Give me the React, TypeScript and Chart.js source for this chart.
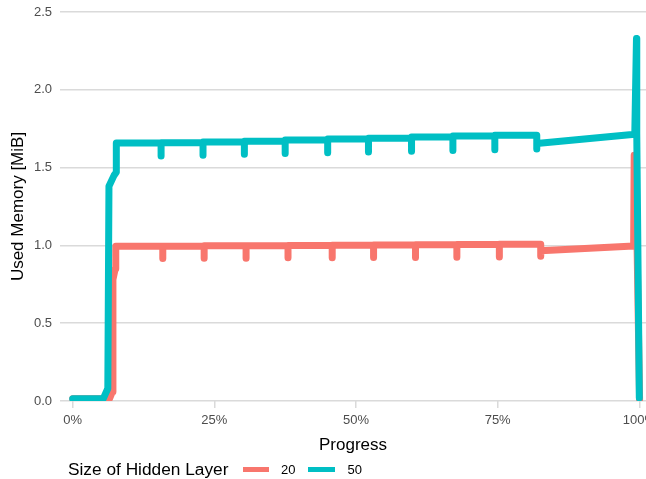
import React, { useEffect, useRef } from "react";
import { Chart, registerables } from "chart.js";

Chart.register(...registerables);

// Progress (%) and used memory (MiB) for hidden layer size 20
const redX = [0, 6.5, 7.0, 7.1, 7.5, 7.6,
  15.9, 15.9, 15.9, 23.2, 23.2, 23.2, 30.6, 30.6, 30.6, 38.0, 38.0, 38.0,
  45.8, 45.8, 45.8, 53.1, 53.1, 53.1, 60.5, 60.5, 60.5, 67.8, 67.8, 67.8,
  75.3, 75.3, 75.3, 82.6, 82.6, 82.6, 99.0, 99.1, 99.6, 100.05];
const redY = [0.015, 0.015, 0.06, 0.78, 0.85, 0.994,
  0.994, 0.916, 0.995, 0.995, 0.917, 0.997, 0.997, 0.918, 0.998, 0.998, 0.92, 1.0,
  1.0, 0.921, 1.001, 1.001, 0.922, 1.003, 1.003, 0.923, 1.004, 1.004, 0.924, 1.005,
  1.005, 0.925, 1.007, 1.007, 0.93, 0.965, 0.996, 1.58, 1.0, 0.01];

// Progress (%) and used memory (MiB) for hidden layer size 50
const tealX = [0, 5.4, 6.2, 6.4, 7.3, 7.7, 7.7,
  15.6, 15.6, 15.6, 23.0, 23.0, 23.0, 30.3, 30.3, 30.3, 37.5, 37.5, 37.5,
  45.0, 45.0, 45.0, 52.2, 52.2, 52.2, 59.8, 59.8, 59.8, 67.1, 67.1, 67.1,
  74.5, 74.5, 74.5, 81.9, 81.9, 81.9, 99.2, 99.5, 99.55, 100.0];
const tealY = [0.015, 0.015, 0.08, 1.38, 1.45, 1.47, 1.658,
  1.658, 1.575, 1.66, 1.66, 1.58, 1.665, 1.665, 1.585, 1.67, 1.67, 1.59, 1.677,
  1.677, 1.595, 1.684, 1.684, 1.60, 1.688, 1.688, 1.605, 1.697, 1.697, 1.61, 1.703,
  1.703, 1.615, 1.708, 1.708, 1.62, 1.655, 1.715, 2.33, 1.72, 0.02];

const seriesNames = ["20", "50"];
const seriesColors = ["#F8766D", "#00BFC4"];
const xTickValues = [0, 25, 50, 75, 100];
const yTickValues = [0, 0.5, 1.0, 1.5, 2.0, 2.5];

const FONT = "'Liberation Sans', Arial, Helvetica, sans-serif";
const GRID = "#DADADA";

function zip(xs: number[], ys: number[]) {
  return xs.map((x, i) => ({ x, y: ys[i] }));
}

export default function App() {
  const ref = useRef<HTMLCanvasElement | null>(null);

  useEffect(() => {
    if (!ref.current) return;
    const lineStyle = {
      borderWidth: 7,
      borderCapStyle: "round",
      borderJoinStyle: "round",
      pointRadius: 0,
      tension: 0,
    };
    const chart = new Chart(ref.current, {
      type: "line",
      data: {
        datasets: [
          { label: seriesNames[1], data: zip(tealX, tealY), borderColor: seriesColors[1], backgroundColor: seriesColors[1], ...lineStyle, order: 0 },
          { label: seriesNames[0], data: zip(redX, redY), borderColor: seriesColors[0], backgroundColor: seriesColors[0], ...lineStyle, order: 1 },
        ],
      },
      options: {
        responsive: false,
        animation: false,
        devicePixelRatio: 1,
        layout: { padding: { top: 12, right: 34, bottom: 0, left: 0 } },
        plugins: { legend: { display: false }, tooltip: { enabled: false } },
        scales: {
          x: {
            type: "linear", min: -2.24, max: 101.18,
            afterBuildTicks: (scale: any) => { scale.ticks = xTickValues.map((v) => ({ value: v })); },
            afterFit: (scale: any) => { scale.height = 78; },
            grid: { display: true, drawOnChartArea: false, drawTicks: true, tickLength: 7, color: GRID, lineWidth: 1.5 },
            border: { display: false },
            ticks: { padding: 5, color: "#4D4D4D", font: { family: FONT, size: 13 }, maxRotation: 0, callback: (v: any) => `${v}%` },
            title: { display: true, text: "Progress", color: "#000000", font: { family: FONT, size: 17 }, padding: { top: 0, bottom: 23 } },
          },
          y: {
            type: "linear", min: 0, max: 2.5,
            afterBuildTicks: (scale: any) => { scale.ticks = yTickValues.map((v) => ({ value: v })); },
            afterFit: (scale: any) => {
              scale.width = 60;
              scale.paddingTop = 0;
              scale.paddingBottom = 0;
            },
            grid: { display: true, drawTicks: false, color: GRID, lineWidth: 1.5 },
            border: { display: false },
            ticks: { padding: 8, color: "#4D4D4D", font: { family: FONT, size: 13 }, callback: (v: any) => Number(v).toFixed(1) },
            title: { display: true, text: "Used Memory [MiB]", color: "#000000", font: { family: FONT, size: 17 }, padding: { top: 8, bottom: 0 } },
          },
        },
      },
    } as any);
    return () => chart.destroy();
  }, []);

  const textBase: React.CSSProperties = { position: "absolute", fontFamily: FONT, whiteSpace: "nowrap", margin: 0 };

  return (
    <div style={{ position: "absolute", left: 0, top: 0, width: 646, height: 479, overflow: "hidden", background: "#ffffff" }}>
      <canvas ref={ref} width={680} height={479} style={{ display: "block", width: 680, height: 479 }} />
      <div style={{ ...textBase, left: 68, top: 458.5, fontSize: 17.3, lineHeight: "20px", color: "#000" }}>Size of Hidden Layer</div>
      <div style={{ position: "absolute", left: 243, top: 467, width: 26, height: 5, background: seriesColors[0] }} />
      <div style={{ ...textBase, left: 281, top: 461.5, fontSize: 13, lineHeight: "15px", color: "#000" }}>{seriesNames[0]}</div>
      <div style={{ position: "absolute", left: 308, top: 467, width: 27, height: 5, background: seriesColors[1] }} />
      <div style={{ ...textBase, left: 347.5, top: 461.5, fontSize: 13, lineHeight: "15px", color: "#000" }}>{seriesNames[1]}</div>
    </div>
  );
}
